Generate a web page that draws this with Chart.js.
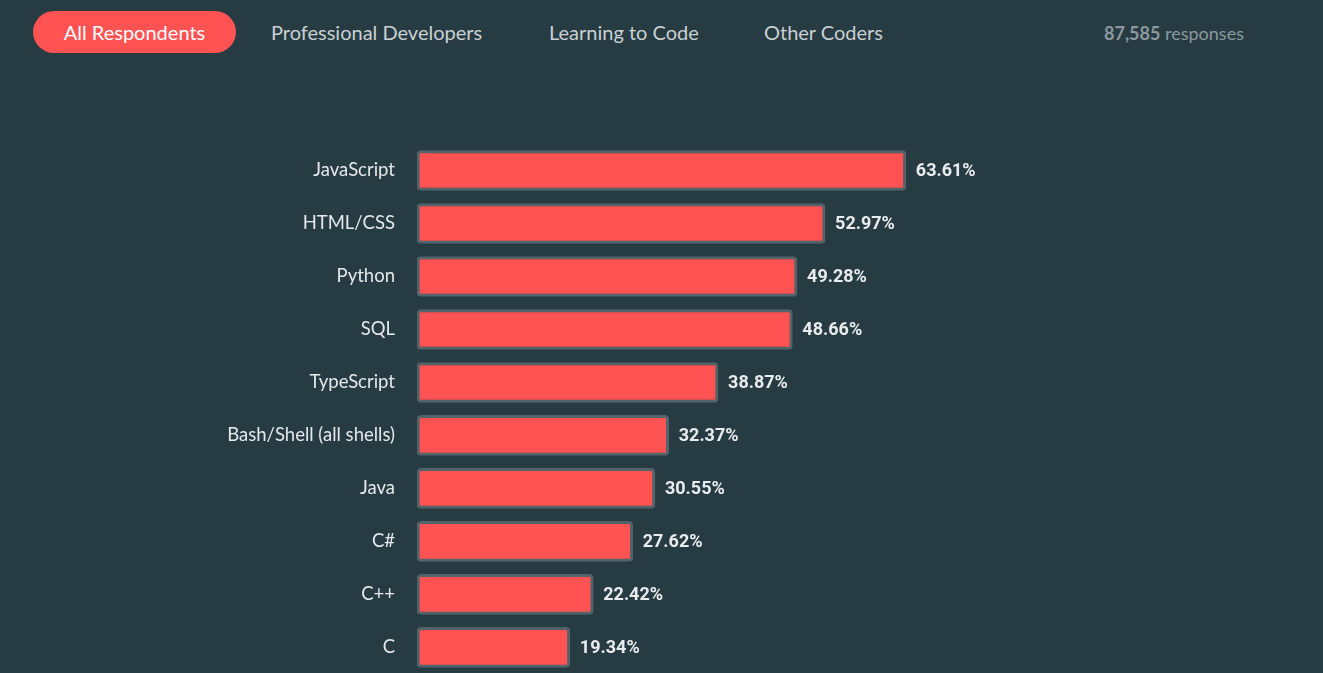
<!DOCTYPE html>
<html lang="en">
<head>
    <meta charset="UTF-8">
    <title>Most popular technologies</title>
    <script src="https://cdn.jsdelivr.net/npm/chart.js"></script>
    <style>
        html, body { margin: 0; padding: 0; background: #273b42; overflow: hidden; }
        body { width: 1323px; height: 673px; position: relative; font-family: Lato, sans-serif; }
        .tab { position: absolute; top: 11px; height: 42px; line-height: 42px; font-size: 20px; color: #c9d0d3; white-space: nowrap; }
        .tab.active { left: 33px; width: 203px; background: #ff5252; color: #ffffff; border-radius: 21px; text-align: center; }
        .count { position: absolute; top: 12px; left: 1104px; height: 42px; line-height: 42px; font-size: 18px; color: #8b989e; }
        .count b { font-weight: 700; }
        #langChart { position: absolute; left: 0; top: 0; }
    </style>
</head>
<body>
    <div class="tab active">All Respondents</div>
    <div class="tab" style="left:271px">Professional Developers</div>
    <div class="tab" style="left:549px">Learning to Code</div>
    <div class="tab" style="left:764px">Other Coders</div>
    <div class="count"><b>87,585</b> responses</div>

    <!-- taller than the window: the list carries on below the fold -->
    <canvas id="langChart" width="1323" height="707"></canvas>

    <script>
        const languages = ['JavaScript', 'HTML/CSS', 'Python', 'SQL', 'TypeScript',
            'Bash/Shell (all shells)', 'Java', 'C#', 'C++', 'C'];
        const shares = [63.61, 52.97, 49.28, 48.66, 38.87, 32.37, 30.55, 27.62, 22.42, 19.34];

        // percentage text at the end of each bar
        const valueLabels = {
            id: 'valueLabels',
            afterDatasetsDraw(chart) {
                const ctx = chart.ctx;
                const meta = chart.getDatasetMeta(0);
                ctx.save();
                ctx.font = 'bold 18px Roboto';
                ctx.fillStyle = '#e9ecee';
                ctx.textBaseline = 'middle';
                ctx.textAlign = 'left';
                meta.data.forEach((bar, i) => {
                    ctx.fillText(shares[i].toFixed(2) + '%', bar.x + 10, bar.y + 1);
                });
                ctx.restore();
            }
        };

        new Chart(document.getElementById('langChart'), {
            type: 'bar',
            data: {
                labels: languages,
                datasets: [{
                    data: shares,
                    base: -0.8,
                    backgroundColor: '#ff5252',
                    borderColor: '#53636a',
                    borderWidth: 3,
                    borderRadius: 4,
                    borderSkipped: false,
                    barThickness: 40
                }]
            },
            options: {
                indexAxis: 'y',
                responsive: false,
                animation: false,
                layout: { padding: { top: 144, right: 141, bottom: 0, left: 0 } },
                plugins: { legend: { display: false }, tooltip: { enabled: false } },
                scales: {
                    x: { display: false, min: -0.8, max: 100 },
                    y: {
                        grid: { display: false, drawTicks: false },
                        border: { display: false },
                        ticks: { color: '#e4e8ea', padding: 22, font: { family: 'Lato', size: 18.5 } },
                        afterFit(scale) { scale.width = 417; }
                    }
                }
            },
            plugins: [valueLabels]
        });
    </script>
</body>
</html>
